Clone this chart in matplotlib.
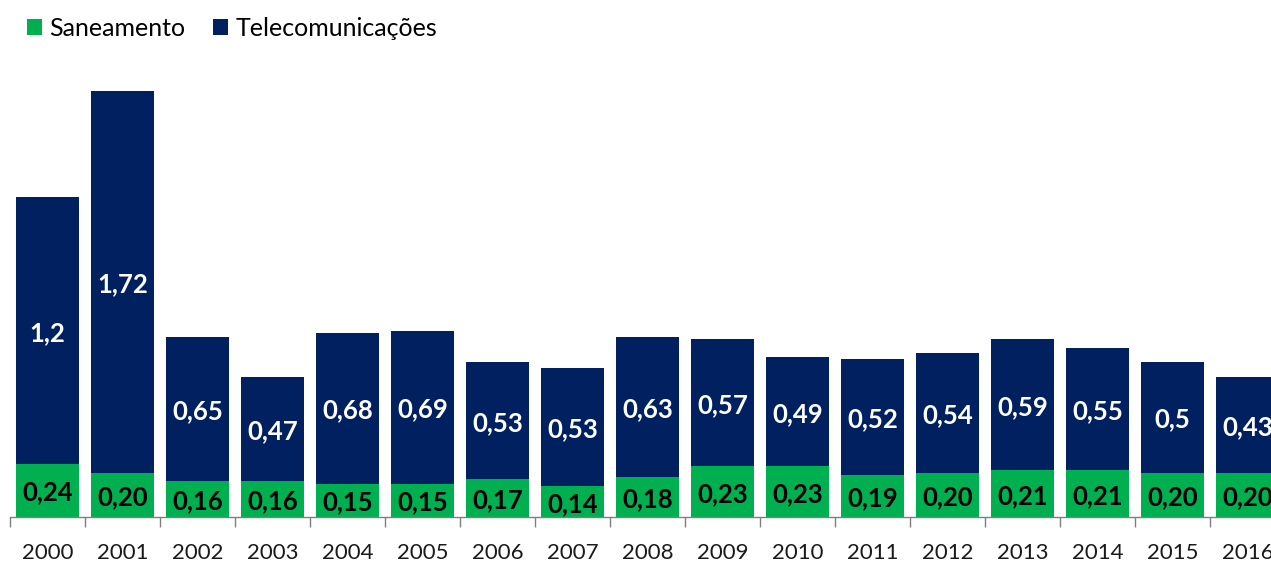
import matplotlib
matplotlib.use("Agg")
import matplotlib.pyplot as plt
from matplotlib.patches import Patch

plt.rcParams['font.family'] = ['Lato', 'DejaVu Sans']

years = ["2000", "2001", "2002", "2003", "2004", "2005", "2006", "2007", "2008",
         "2009", "2010", "2011", "2012", "2013", "2014", "2015", "2016"]
saneamento = [0.24, 0.20, 0.16, 0.16, 0.15, 0.15, 0.17, 0.14, 0.18,
              0.23, 0.23, 0.19, 0.20, 0.21, 0.21, 0.20, 0.20]
telecom = [1.2, 1.72, 0.65, 0.47, 0.68, 0.69, 0.53, 0.53, 0.63,
           0.57, 0.49, 0.52, 0.54, 0.59, 0.55, 0.5, 0.43]

GREEN = "#00B050"
NAVY = "#002060"

fig = plt.figure(figsize=(12.71, 5.63), dpi=100)
W, H = 1271, 563
ax = fig.add_axes([10 / W, 46 / H, 1275 / W, 444 / H])

x = list(range(len(years)))
width = 0.83
ax.bar(x, saneamento, width=width, color=GREEN, zorder=2)
ax.bar(x, telecom, width=width, bottom=saneamento, color=NAVY, zorder=2)

for i, (s, t) in enumerate(zip(saneamento, telecom)):
    ax.text(i, s / 2 - 0.01, f"{s:.2f}".replace(".", ","), ha="center", va="center",
            fontsize=18.5, fontweight="bold", color="black", zorder=3)
    ax.text(i, s + t / 2 - 0.01, f"{t:g}".replace(".", ","), ha="center", va="center",
            fontsize=18.5, fontweight="bold", color="white", zorder=3)

ax.set_xlim(-0.5, 16.5)
ax.set_ylim(0, 2.0)
for side in ["top", "right", "left"]:
    ax.spines[side].set_visible(False)
ax.spines["bottom"].set_color("#7f7f7f")
ax.spines["bottom"].set_linewidth(1)
ax.set_yticks([])

ax.set_xticks([i - 0.5 for i in range(len(years) + 1)], minor=False)
ax.set_xticklabels([])
ax.tick_params(axis="x", which="major", length=7, width=1, color="#7f7f7f", direction="out")
ax.set_xticks(x, minor=True)
ax.set_xticklabels(years, minor=True, fontsize=16, color="#1a1a1a")
ax.tick_params(axis="x", which="minor", length=0, pad=19)

handles = [Patch(facecolor=GREEN, label="Saneamento"),
           Patch(facecolor=NAVY, label="Telecomunicações")]
fig.legend(handles=handles, loc="upper left", bbox_to_anchor=(17 / W, 1 - 7 / H),
           ncol=2, frameon=False, fontsize=18, handlelength=0.6, handleheight=0.6,
           handletextpad=0.3, columnspacing=1.1, borderaxespad=0)

fig.savefig("out.png", dpi=100)
